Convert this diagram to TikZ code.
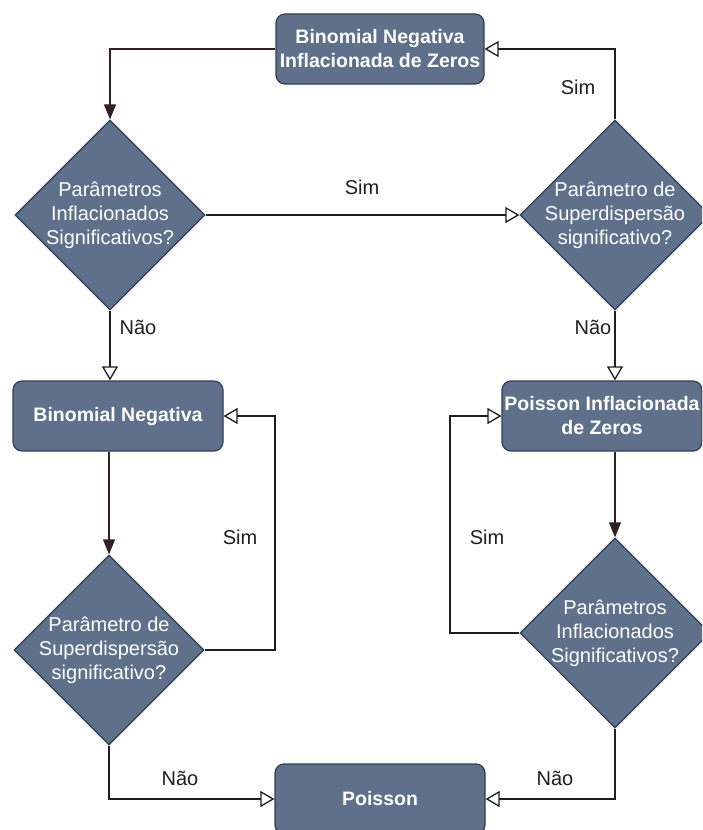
\documentclass[tikz,border=0pt]{standalone}
\usepackage{fontspec}
\setmainfont{Liberation Sans}
\usetikzlibrary{shapes.geometric, arrows.meta, positioning, calc}
\definecolor{slate}{RGB}{94, 112, 138}
\definecolor{slateline}{RGB}{48, 62, 82}
\definecolor{ink}{RGB}{30, 30, 30}
\definecolor{flowdark}{RGB}{50, 32, 36}
\tikzset{
    box/.style={rectangle, rounded corners=9pt, draw=slateline, line width=1.2pt, fill=slate, text=white, align=center, font=\fontsize{19.5}{24}\selectfont\bfseries, inner sep=2pt},
    decision/.style={diamond, aspect=1, draw=slateline, line width=1.2pt, fill=slate, text=white, align=center, font=\fontsize{20}{24}\selectfont, inner sep=-14pt, minimum width=190pt, minimum height=190pt},
    lbl/.style={font=\fontsize{20}{24}\selectfont, text=ink},
    arr/.style={-{Triangle[open, length=14pt, width=16pt]}, line width=1.3pt, ink},
    solidarr/.style={-{Triangle[length=15pt, width=12pt]}, line width=1.3pt, flowdark}
}
\begin{document}
\begin{tikzpicture}[x=1pt, y=-1pt]
        \useasboundingbox (0,0) rectangle (702,830);
        \clip (0,0) rectangle (702,830);

        \node[box, minimum width=208pt, minimum height=70pt] (bnz) at (380,49) {Binomial Negativa\\Inflacionada de Zeros};
        \node[decision] (d1) at (110,215) {Parâmetros\\Inflacionados\\Significativos?};
        \node[decision] (d2) at (615,215) {Parâmetro de\\Superdispersão\\significativo?};
        \node[box, minimum width=210pt, minimum height=70pt] (bn) at (118,416) {Binomial Negativa};
        \node[box, minimum width=200pt, minimum height=70pt] (pz) at (602,416) {Poisson Inflacionada\\de Zeros};
        \node[decision] (d3) at (109,650) {Parâmetro de\\Superdispersão\\significativo?};
        \node[decision] (d4) at (615,633) {Parâmetros\\Inflacionados\\Significativos?};
        \node[box, minimum width=210pt, minimum height=70pt] (po) at (380,799) {Poisson};

        \coordinate (loopl) at (275,416);
        \coordinate (loopr) at (450,416);

        \draw[solidarr] (bnz.west) -| (d1.north);
        \draw[arr] (d2.north) |- (bnz.east);
        \draw[arr] (d1.east) -- (d2.west);
        \draw[arr] (d1.south) -- (d1.south |- bn.north);
        \draw[arr] (d2.south) -- (d2.south |- pz.north);
        \draw[solidarr] (bn.south -| d3.north) -- (d3.north);
        \draw[solidarr] (pz.south -| d4.north) -- (d4.north);
        \draw[arr] (d3.east) -| (loopl) -- (bn.east);
        \draw[arr] (d4.west) -| (loopr) -- (pz.west);
        \draw[arr] (d3.south) |- (po.west);
        \draw[arr] (d4.south) |- (po.east);

        \node[lbl] (sim1) at (578,87) {Sim};
        \node[lbl] (sim2) at (362,187) {Sim};
        \node[lbl] (nao1) at (138,327) {Não};
        \node[lbl] (nao2) at (593,327) {Não};
        \node[lbl] (sim3) at (240,537) {Sim};
        \node[lbl] (sim4) at (487,537) {Sim};
        \node[lbl] (nao3) at (180,778) {Não};
        \node[lbl] (nao4) at (555,778) {Não};
    \end{tikzpicture}
\end{document}
